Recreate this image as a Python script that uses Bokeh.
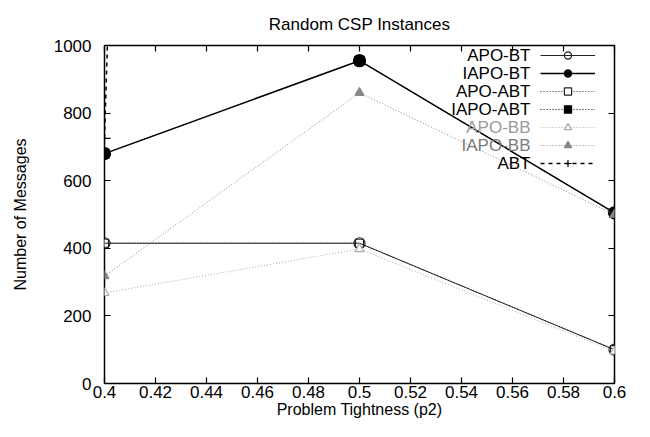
from bokeh.plotting import figure
from bokeh.models import (Range1d, LinearAxis, FixedTicker, Legend, LegendItem, Label)
from bokeh.embed import file_html
from bokeh.resources import INLINE

# ---- data ----
tightness = [0.4, 0.5, 0.6]
apo_bt = [415, 415, 100]
iapo_bt = [680, 955, 505]
apo_abt = [415, 415, 100]
iapo_abt = [680, 955, 505]
apo_bb = [268, 398, 95]
iapo_bb = [318, 860, 500]
abt = [725, 25000, 30000]

series_names = ["APO-BT", "IAPO-BT", "APO-ABT", "IAPO-ABT", "APO-BB", "IAPO-BB", "ABT"]

x_ticks = [0.4, 0.42, 0.44, 0.46, 0.48, 0.5, 0.52, 0.54, 0.56, 0.58, 0.6]
x_tick_labels = ["0.4", "0.42", "0.44", "0.46", "0.48", "0.5", "0.52", "0.54", "0.56", "0.58", "0.6"]
y_ticks = [0, 200, 400, 600, 800, 1000]

FONT = "Liberation Sans"

p = figure(width=642, height=429, output_backend="svg", toolbar_location=None,
           x_range=Range1d(0.4, 0.6), y_range=Range1d(0, 1000),
           min_border_left=104, min_border_right=28, min_border_top=44, min_border_bottom=46)
p.background_fill_color = "white"
p.border_fill_color = "white"
p.outline_line_color = "black"
p.outline_line_width = 1.5
p.xgrid.visible = False
p.ygrid.visible = False

p.title.text = "Random CSP Instances"
p.title.align = "center"
p.title.text_font = FONT
p.title.text_font_size = "17px"
p.title.text_font_style = "normal"
p.title.text_color = "black"
p.title.offset = 0
p.title.standoff = 24

def style_axis(ax):
    ax.axis_line_color = None
    ax.major_tick_in = 6
    ax.major_tick_out = 0
    ax.minor_tick_line_color = None
    ax.major_tick_line_color = "black"
    ax.major_tick_line_width = 1.2
    ax.major_label_text_font = FONT
    ax.major_label_text_font_size = "17px"
    ax.major_label_text_color = "black"
    ax.axis_label_text_font = FONT
    ax.axis_label_text_font_size = "16px"
    ax.axis_label_text_font_style = "normal"
    ax.axis_label_text_color = "black"

xax = p.xaxis[0]
yax = p.yaxis[0]
xax.ticker = FixedTicker(ticks=x_ticks)
xax.major_label_overrides = dict(zip(x_ticks, x_tick_labels))
yax.ticker = FixedTicker(ticks=y_ticks)
style_axis(xax)
style_axis(yax)
xax.axis_label = "Problem Tightness (p2)"
yax.axis_label = "Number of Messages"
xax.major_label_standoff = 2
xax.axis_label_standoff = 0
yax.major_label_standoff = 13
yax.axis_label_standoff = 22

top = LinearAxis(ticker=FixedTicker(ticks=x_ticks),
                 major_label_overrides={t: "" for t in x_ticks})
right = LinearAxis(ticker=FixedTicker(ticks=y_ticks),
                   major_label_overrides={t: "" for t in y_ticks})
style_axis(top)
style_axis(right)
top.major_label_standoff = 0
right.major_label_standoff = 0
p.add_layout(top, "above")
p.add_layout(right, "right")

items = []

def series(name, ys, color, lw, dash, marker, fill, size):
    r1 = p.line(tightness, ys, line_color=color, line_width=lw, line_dash=dash)
    r2 = p.scatter(tightness, ys, marker=marker, size=size, line_color=color,
                   fill_color=fill, line_width=1.2)
    items.append(LegendItem(label="", renderers=[r1, r2]))

series(series_names[2], apo_abt, "#222222", 1.0, "1 2", "square", "white", 8)
series(series_names[3], iapo_abt, "black", 1.0, "1 2", "square", "black", 9)
series(series_names[0], apo_bt, "#222222", 1.0, "solid", "circle", None, 11)
series(series_names[1], iapo_bt, "black", 1.5, "solid", "circle", "black", 12)
series(series_names[4], apo_bb, "#aaaaaa", 1.0, "1 2", "triangle", "white", 9)
series(series_names[5], iapo_bb, "#888888", 1.0, "1 2", "triangle", "#888888", 9)
series(series_names[6], abt, "black", 1.5, "4 4", "cross", None, 12)
# legend order as in reference
items = [items[2], items[3], items[0], items[1], items[4], items[5], items[6]]

ROW = 18
legend = Legend(items=items, location=(436, 211),
                border_line_color=None, background_fill_alpha=0,
                label_text_font_size="0px", label_width=0, label_standoff=0,
                glyph_width=55, glyph_height=ROW, label_height=ROW,
                spacing=0, padding=0, margin=0)
p.add_layout(legend, "center")

# right-aligned legend labels (gnuplot style: text left of the sample)
label_colors = ["black", "black", "black", "black", "#9a9a9a", "#7a7a7a", "black"]
for i, (name, c) in enumerate(zip(series_names, label_colors)):
    p.add_layout(Label(x=426, y=328 - ROW * i, x_units="screen", y_units="screen",
                       text=name, text_align="right", text_baseline="middle",
                       text_font=FONT, text_font_size="17px", text_color=c))

open("out.html", "w").write(file_html(p, INLINE))
